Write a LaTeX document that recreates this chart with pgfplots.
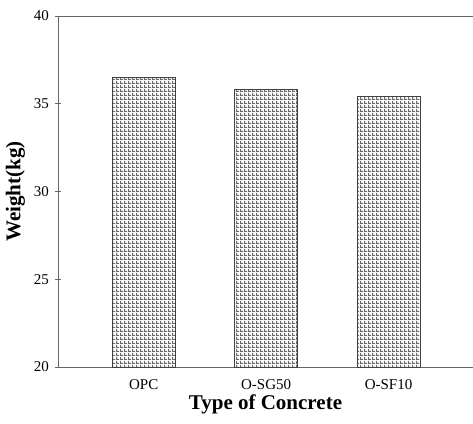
\documentclass[border=0pt]{standalone}
\usepackage{pgfplots}
\pgfplotsset{compat=1.18}
\usetikzlibrary{patterns.meta}
\usepackage{fontspec}
\setmainfont{Liberation Serif}
\tikzdeclarepattern{
  name=mesh,
  type=uncolored,
  bottom left={(0pt,0pt)},
  top right={(4pt,4pt)},
  tile size={(4pt,4pt)},
  code={
    \fill (0pt,0pt) rectangle (4pt,1.3pt);
    \fill (0pt,0pt) rectangle (1.3pt,4pt);
  }
}
\begin{document}
\begin{tikzpicture}
\useasboundingbox (-58pt,-56pt) rectangle (415pt,367pt);
\begin{axis}[
  scale only axis,
  width=415pt, height=351pt,
  xmin=0.3, xmax=3.69,
  ymin=20, ymax=40,
  ytick={20,25,30,35,40},
  xtick={1,2,3},
  xticklabels={OPC,O-SG50,O-SF10},
  axis x line=box, axis y line=left,
  axis line style={-, gray!80!black, line width=0.8pt},
  major tick length=5pt,
  y tick style={gray!80!black, line width=0.6pt},
  x tick style={draw=none},
  /pgf/number format/assume math mode=true,
  tick label style={font=\fontsize{15}{17}\selectfont},
  yticklabel style={xshift=-3pt},
  xticklabel style={yshift=-4pt},
  xlabel={\textbf{Type of Concrete}},
  ylabel={\textbf{Weight(kg)}},
  label style={font=\fontsize{21}{23}\selectfont},
  xlabel style={yshift=2pt},
  ylabel style={yshift=2pt},
  ybar, bar width=63pt,
  clip=false,
]
\addplot[draw=gray!50!black, line width=0.7pt, pattern=mesh, pattern color=gray!85!black] coordinates {(1,36.5) (2,35.8) (3,35.4)};
\end{axis}
\end{tikzpicture}
\end{document}
